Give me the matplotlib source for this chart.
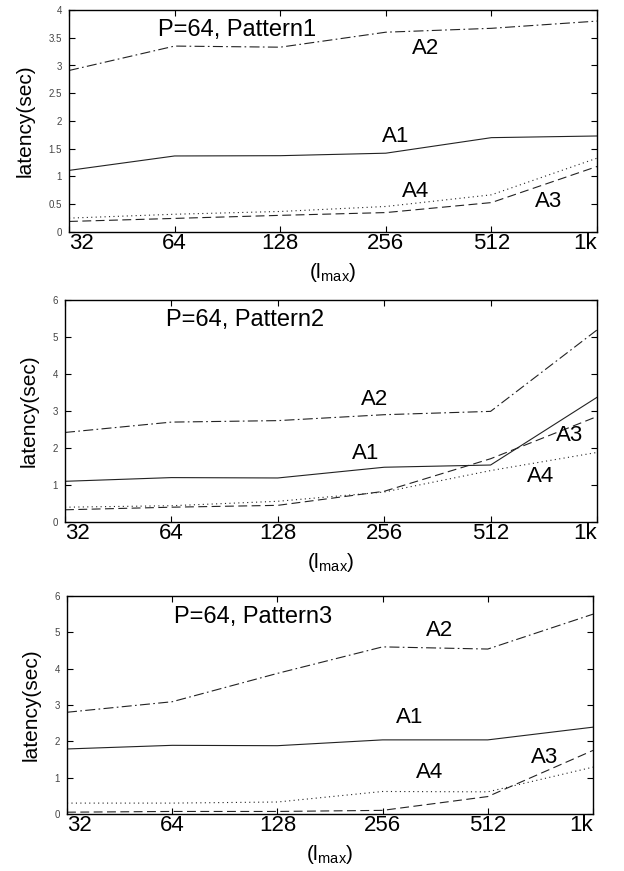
import matplotlib.pyplot as plt

plt.rcParams['font.family'] = ['Liberation Sans', 'DejaVu Sans']
plt.rcParams['mathtext.fontset'] = 'custom'
plt.rcParams['mathtext.rm'] = 'Liberation Sans'
plt.rcParams['mathtext.it'] = 'Liberation Sans'

x_labels = ["32", "64", "128", "256", "512", "1k"]

# Pattern1
p1_a1 = [1.11, 1.37, 1.375, 1.42, 1.70, 1.73]
p1_a2 = [2.91, 3.35, 3.33, 3.60, 3.67, 3.80]
p1_a3 = [0.19, 0.245, 0.30, 0.35, 0.53, 1.18]
p1_a4 = [0.25, 0.32, 0.37, 0.46, 0.67, 1.33]

# Pattern2
p2_a1 = [1.10, 1.20, 1.19, 1.48, 1.54, 3.37]
p2_a2 = [2.42, 2.70, 2.74, 2.90, 2.99, 5.19]
p2_a3 = [0.33, 0.40, 0.45, 0.83, 1.71, 2.85]
p2_a4 = [0.40, 0.44, 0.56, 0.81, 1.39, 1.88]

# Pattern3
p3_a1 = [1.79, 1.89, 1.88, 2.04, 2.04, 2.39]
p3_a2 = [2.80, 3.09, 3.87, 4.60, 4.54, 5.50]
p3_a3 = [0.05, 0.07, 0.07, 0.10, 0.48, 1.75]
p3_a4 = [0.30, 0.30, 0.33, 0.62, 0.61, 1.29]

titles = ["P=64, Pattern1", "P=64, Pattern2", "P=64, Pattern3"]
series = [
    (p1_a1, p1_a2, p1_a3, p1_a4),
    (p2_a1, p2_a2, p2_a3, p2_a4),
    (p3_a1, p3_a2, p3_a3, p3_a4),
]
ymax = [4, 6, 6]
yticks = [[0, 0.5, 1, 1.5, 2, 2.5, 3, 3.5, 4], [0, 1, 2, 3, 4, 5, 6], [0, 1, 2, 3, 4, 5, 6]]
ytick_text = [["0", "0.5", "1", "1.5", "2", "2.5", "3", "3.5", "4"],
              ["0", "1", "2", "3", "4", "5", "6"], ["0", "1", "2", "3", "4", "5", "6"]]

# label placements (x index, y value)
title_pos = [(0.84, 3.64), (0.95, 5.46), (1.02, 5.43)]
name_pos = [
    {"A1": (3.09, 1.72), "A2": (3.38, 3.30), "A3": (4.54, 0.55), "A4": (3.28, 0.73)},
    {"A1": (2.83, 1.86), "A2": (2.91, 3.30), "A3": (4.74, 2.34), "A4": (4.47, 1.23)},
    {"A1": (3.26, 2.66), "A2": (3.54, 5.06), "A3": (4.54, 1.56), "A4": (3.45, 1.13)},
]

W, H = 624, 871
boxes = [(69, 10, 597, 232), (65, 300, 597, 522), (67, 596, 593, 814)]

fig = plt.figure(figsize=(W / 100, H / 100), dpi=100)
xs = list(range(len(x_labels)))
lc = "#222222"

for i in range(3):
    l, t, r, b = boxes[i]
    ax = fig.add_axes([l / W, 1 - b / H, (r - l) / W, (b - t) / H])
    a1, a2, a3, a4 = series[i]
    ax.plot(xs, a1, color=lc, lw=0.8, linestyle="-")
    ax.plot(xs, a2, color=lc, lw=0.8, linestyle=(0, (9, 3, 1.5, 3)))
    ax.plot(xs, a3, color=lc, lw=0.8, linestyle=(0, (8, 4)))
    ax.plot(xs, a4, color=lc, lw=0.8, linestyle=(0, (1, 3)))

    ax.set_xlim(0, 5)
    ax.set_ylim(0, ymax[i])
    ax.set_xticks(xs)
    ax.set_xticklabels(x_labels, fontsize=16)
    tl = ax.get_xticklabels()
    tl[0].set_ha("left")
    tl[-1].set_ha("right")
    ax.set_yticks(yticks[i])
    ax.set_yticklabels(ytick_text[i], fontsize=7, color="#444444")
    ax.tick_params(axis="x", direction="in", length=4, pad=1, top=True, width=0.8)
    ax.tick_params(axis="y", direction="in", length=4, pad=5, right=True, width=0.8)
    for s in ax.spines.values():
        s.set_linewidth(1.0)

    ax.set_ylabel("latency(sec)", fontsize=15, labelpad=10)
    ax.set_xlabel(r"(l$_{\mathrm{max}}$)", fontsize=15, labelpad=5)

    tx, ty = title_pos[i]
    ax.text(tx, ty, titles[i], fontsize=17, ha="left", va="center")
    for name, (nx, ny) in name_pos[i].items():
        ax.text(nx, ny, name, fontsize=16, ha="center", va="center")

fig.savefig("out.png", dpi=100)
